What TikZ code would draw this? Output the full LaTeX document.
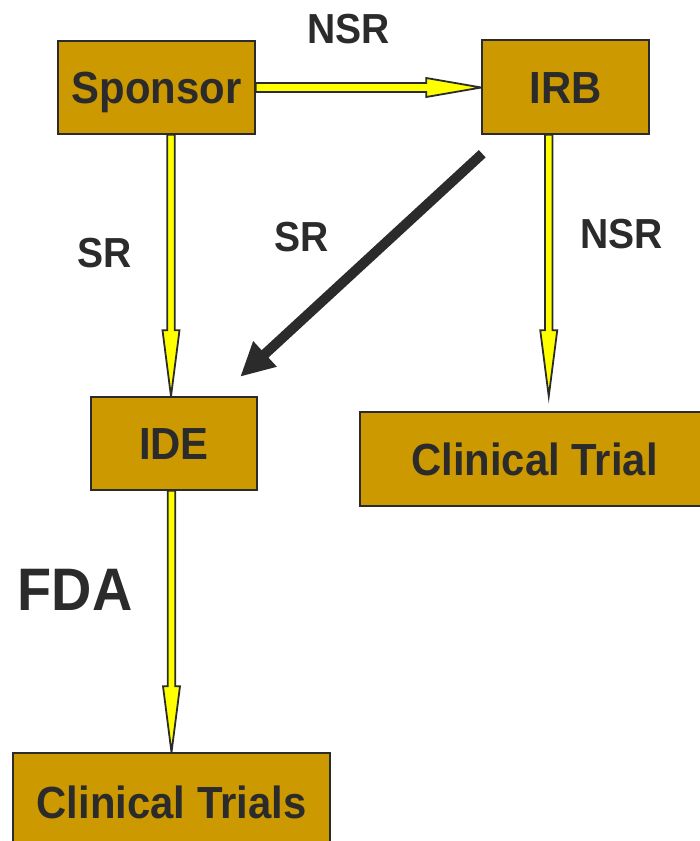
\documentclass[tikz,border=0pt]{standalone}
\usepackage{fontspec}
\setmainfont{Liberation Sans}[FakeStretch=0.93]
\usetikzlibrary{calc,backgrounds}

\definecolor{ink}{HTML}{2B2B2B}
\definecolor{gold}{HTML}{CC9900}
\definecolor{lemon}{HTML}{FFFF00}

\tikzset{
  % block arrow built as a polygon: #1 half shaft width, #2 head length, #3 half head width
  fatarrow/.style n args={3}{to path={
    ($(\tikztostart)!#1pt!90:(\tikztotarget)$)
    -- ($(\tikztotarget)!#2pt!(\tikztostart)!#1pt!90:(\tikztotarget)$)
    -- ($(\tikztotarget)!#2pt!(\tikztostart)!#3pt!90:(\tikztotarget)$)
    -- (\tikztotarget)
    -- ($(\tikztotarget)!#2pt!(\tikztostart)!#3pt!-90:(\tikztotarget)$)
    -- ($(\tikztotarget)!#2pt!(\tikztostart)!#1pt!-90:(\tikztotarget)$)
    -- ($(\tikztostart)!#1pt!-90:(\tikztotarget)$)
    -- cycle}},
  yflow/.style={fill=lemon, draw=ink, line width=1.8pt, line join=miter},
  hflow/.style={yflow, fatarrow={4.5}{55}{9.5}},
  vflow/.style={yflow, fatarrow={3.8}{66}{8.5}},
  darkflow/.style={fill=ink, draw=none, fatarrow={5}{33}{17.5}},
  box/.style={draw=ink, fill=gold, line width=1.5pt, inner sep=0pt,
    text=ink, font=\fontsize{45}{50}\selectfont\bfseries,
    text height=32.2pt, text depth=0pt},
  tag/.style={inner sep=0pt, text=ink, font=\fontsize{42}{46}\selectfont\bfseries,
    text height=30.1pt, text depth=0pt},
}

\begin{document}
\begin{tikzpicture}[x=1pt, y=-1pt]
  \useasboundingbox (0,0) rectangle (700,841);

  % boxes
  \node[box, minimum width=197pt, minimum height=93pt] (sponsor) at (156.5,87.5) {Sponsor};
  \node[box, minimum width=167pt, minimum height=94pt] (irb) at (565.5,87) {IRB};
  \node[box, minimum width=166pt, minimum height=93pt] (ide) at (174,443.5) {IDE};
  \node[box, minimum width=349pt, minimum height=94pt] (ct) at (534.5,459) {Clinical Trial};
  \node[box, minimum width=317pt, minimum height=99pt] (trials) at (171.5,802.5) {Clinical Trials};

  % connector end points
  \coordinate (ideIn) at ($(ide.north)+(-3,0)$);
  \coordinate (spOut) at (sponsor.south -| ideIn);
  \coordinate (irbIn) at (sponsor.east -| irb.west);
  \coordinate (ctIn) at ($(ct.north west)+(189.5,-15)$);
  \coordinate (irbOut) at (irb.south -| ctIn);
  \coordinate (ideOut) at (ide.south -| trials.north);
  \coordinate (srA) at ($(irb.south west)+(1,19)$);
  \coordinate (srB) at ($(ide.north east)+(-17,-20)$);

  % connectors, tucked under the box borders
  \begin{scope}[on background layer]
    \fill[white] (0,0) rectangle (700,841);
    \path[hflow] (sponsor.east) to (irbIn);
    \path[vflow] (spOut) to (ideIn);
    \path[vflow] (irbOut) to (ctIn);
    \path[vflow] (ideOut) to (trials.north);
  \end{scope}
  \path[darkflow] (srA) to (srB);

  % labels
  \node[tag] (lnsr1) at (348.5,28) {NSR};
  \node[tag] (lsr1) at (105,252) {SR};
  \node[tag] (lsr2) at (301.5,236) {SR};
  \node[tag] (lnsr2) at (621.5,233) {NSR};
  \node[tag, font=\fontsize{60}{64}\selectfont\bfseries, text height=43pt] (lfda) at (75,588.5) {FDA};
\end{tikzpicture}
\end{document}
